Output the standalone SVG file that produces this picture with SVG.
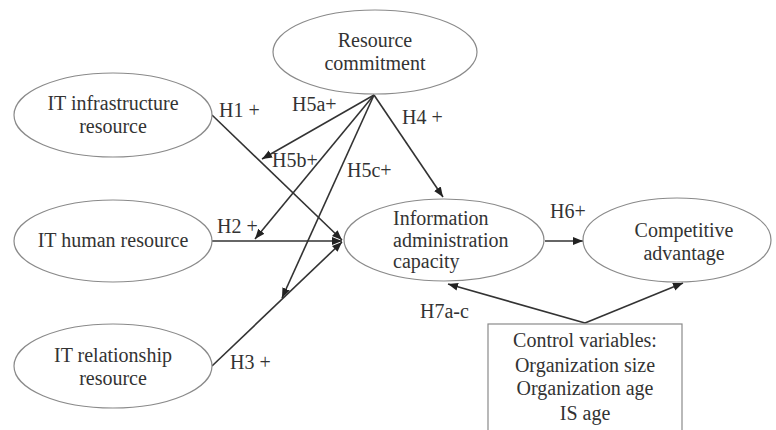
<svg xmlns="http://www.w3.org/2000/svg" width="776" height="430" viewBox="0 0 776 430">
<defs>
<style>
.n{fill:#fff;stroke:#8a8a8a;stroke-width:1.2}
.t{font-family:"Liberation Serif","Times New Roman",serif;font-size:20px;fill:#333}
.c{text-anchor:middle}
.e{fill:none;stroke:#333;stroke-width:1.6}
</style>
<marker id="ah" markerUnits="userSpaceOnUse" markerWidth="11" markerHeight="9" refX="10" refY="4" orient="auto" viewBox="0 0 11 8">
<path d="M0,0 L10,4 L0,8 z" fill="#222"/>
</marker>
</defs>
<rect width="776" height="430" fill="#fff"/>
<g id="connectors">
<line class="e" x1="212" y1="115" x2="342" y2="240" marker-end="url(#ah)"/>
<line class="e" x1="212" y1="241" x2="342" y2="241" marker-end="url(#ah)"/>
<line class="e" x1="212" y1="366" x2="342" y2="242" marker-end="url(#ah)"/>
<line class="e" x1="374" y1="95" x2="443" y2="197" marker-end="url(#ah)"/>
<line class="e" x1="374" y1="95" x2="262" y2="159" marker-end="url(#ah)"/>
<line class="e" x1="374" y1="95" x2="255" y2="239" marker-end="url(#ah)"/>
<line class="e" x1="374" y1="95" x2="282" y2="298" marker-end="url(#ah)"/>
<line class="e" x1="545" y1="241" x2="583" y2="241" marker-end="url(#ah)"/>
<line class="e" x1="585" y1="323" x2="448" y2="284" marker-end="url(#ah)"/>
<line class="e" x1="585" y1="323" x2="683" y2="283" marker-end="url(#ah)"/>
<text class="t" x="219" y="117">H1 +</text>
<text class="t" x="292" y="111">H5a+</text>
<text class="t" x="402" y="124">H4 +</text>
<text class="t" x="272" y="167">H5b+</text>
<text class="t" x="347" y="177">H5c+</text>
<text class="t" x="217" y="233">H2 +</text>
<text class="t" x="230" y="369">H3 +</text>
<text class="t" x="550" y="218">H6+</text>
<text class="t" x="420" y="318">H7a-c</text>
</g>
<g id="resource-commitment">
<ellipse class="n" cx="375" cy="52" rx="102" ry="42"/>
<text class="t c" x="375" y="47">Resource</text>
<text class="t c" x="375" y="70">commitment</text>
</g>
<g id="it-infrastructure">
<ellipse class="n" cx="113" cy="115" rx="99" ry="42"/>
<text class="t c" x="113" y="110">IT infrastructure</text>
<text class="t c" x="113" y="133">resource</text>
</g>
<g id="it-human">
<ellipse class="n" cx="113" cy="241" rx="99" ry="41"/>
<text class="t c" x="113" y="247">IT human resource</text>
</g>
<g id="it-relationship">
<ellipse class="n" cx="113" cy="366" rx="99" ry="42"/>
<text class="t c" x="113" y="362">IT relationship</text>
<text class="t c" x="113" y="385">resource</text>
</g>
<g id="info-admin">
<ellipse class="n" cx="444" cy="240" rx="100" ry="41"/>
<text class="t" x="393" y="225">Information</text>
<text class="t" x="393" y="247">administration</text>
<text class="t" x="393" y="268">capacity</text>
</g>
<g id="competitive">
<ellipse class="n" cx="677" cy="240" rx="94" ry="42"/>
<text class="t c" x="684" y="237">Competitive</text>
<text class="t c" x="684" y="260">advantage</text>
</g>
<g id="control-variables">
<rect class="n" x="488" y="324" width="194" height="120"/>
<text class="t c" x="585" y="347">Control variables:</text>
<text class="t c" x="585" y="372">Organization size</text>
<text class="t c" x="585" y="395">Organization age</text>
<text class="t c" x="585" y="420">IS age</text>
</g>
</svg>
